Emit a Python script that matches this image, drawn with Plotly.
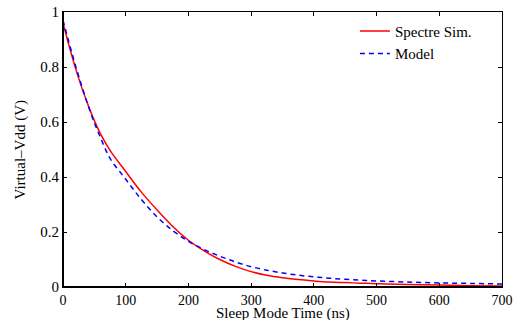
import plotly.graph_objects as go

# Sleep mode time (ns)
time_ns = [0, 10, 20, 30, 40, 50, 60, 75, 100, 125, 150, 175, 200, 225, 250, 275, 300,
           325, 350, 375, 400, 425, 450, 475, 500, 550, 600, 650, 700]
# Spectre simulation (V)
spectre_v = [0.96, 0.875, 0.795, 0.725, 0.662, 0.605, 0.556, 0.497, 0.42, 0.345, 0.28,
             0.22, 0.17, 0.131, 0.100, 0.075, 0.056, 0.043, 0.034, 0.027, 0.022,
             0.018, 0.016, 0.014, 0.012, 0.009, 0.007, 0.005, 0.004]
# Model (V)
model_v = [0.97, 0.885, 0.805, 0.73, 0.66, 0.597, 0.542, 0.468, 0.392, 0.318, 0.255,
           0.205, 0.166, 0.136, 0.112, 0.091, 0.074, 0.061, 0.051, 0.043, 0.037,
           0.032, 0.028, 0.025, 0.022, 0.018, 0.015, 0.013, 0.011]

x_ticks = [0, 100, 200, 300, 400, 500, 600, 700]
y_ticks = [0, 0.2, 0.4, 0.6, 0.8, 1]
y_tick_text = ["0", "0.2", "0.4", "0.6", "0.8", "1"]

FONT = "Times New Roman, Liberation Serif, serif"

fig = go.Figure()
fig.add_trace(go.Scatter(x=time_ns, y=spectre_v, mode="lines", name="Spectre Sim.",
                         line=dict(color="#ff0000", width=1.5, shape="spline")))
fig.add_trace(go.Scatter(x=time_ns, y=model_v, mode="lines", name="Model",
                         line=dict(color="#0000ff", width=1.5, dash="5px,4px", shape="spline")))

axis_common = dict(showgrid=False, zeroline=False, showline=True, linecolor="black",
                   linewidth=1, mirror="ticks", ticks="inside", ticklen=4,
                   tickcolor="black", automargin=False,
                   tickfont=dict(family=FONT, size=15, color="black"))

fig.update_xaxes(range=[0, 700], tickvals=x_ticks, **axis_common)
fig.update_xaxes(tickfont=dict(size=14))
fig.update_yaxes(range=[0, 1], tickvals=y_ticks, ticktext=y_tick_text, **axis_common)

# thicker left / bottom spines
fig.add_shape(type="line", xref="paper", yref="paper", x0=0, x1=0, y0=0, y1=1,
              line=dict(color="black", width=2))
fig.add_shape(type="line", xref="paper", yref="paper", x0=0, x1=1, y0=0, y1=0,
              line=dict(color="black", width=2))

fig.add_annotation(text="Sleep Mode Time (ns)", xref="paper", yref="paper",
                   x=0.5, y=0, yshift=-26, xanchor="center", yanchor="middle",
                   showarrow=False, font=dict(family=FONT, size=15, color="black"))
fig.add_annotation(text="Virtual\u2013Vdd (V)", xref="paper", yref="paper",
                   x=0, y=0.5, xshift=-43, xanchor="center", yanchor="middle",
                   textangle=-90, showarrow=False,
                   font=dict(family=FONT, size=15, color="black"))

fig.update_layout(
    template="none",
    width=528, height=320,
    margin=dict(l=63, r=26, t=12, b=33, autoexpand=False),
    paper_bgcolor="white", plot_bgcolor="white",
    showlegend=True,
    legend=dict(x=0.665, y=0.99, xanchor="left", yanchor="top",
                bgcolor="rgba(0,0,0,0)", borderwidth=0, itemwidth=30,
                tracegroupgap=0,
                font=dict(family=FONT, size=15, color="black")),
)

fig.write_html("out.html", config={"displayModeBar": False},
               post_script="document.body.style.margin='0';document.body.style.padding='0';")
